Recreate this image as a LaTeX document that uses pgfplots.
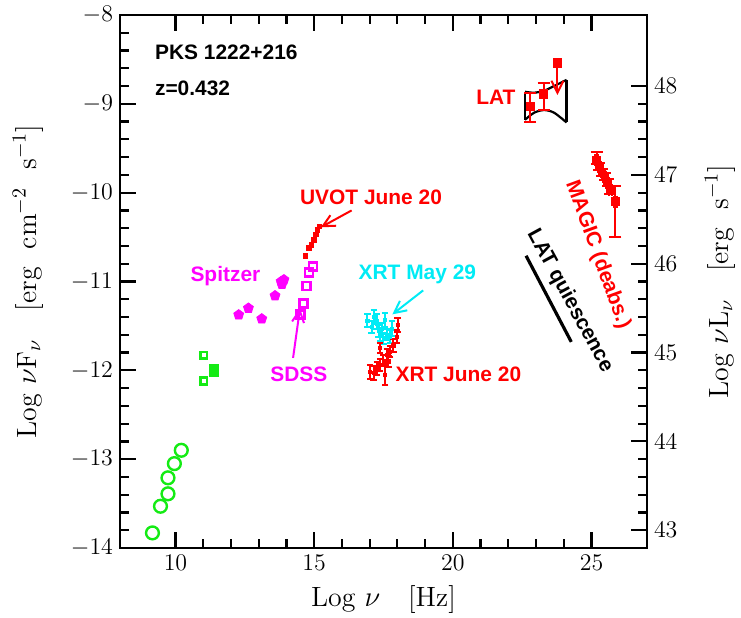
\documentclass[border=0pt]{standalone}
\usepackage{pgfplots}
\pgfplotsset{compat=1.18}
\usepackage{fontspec}
\newfontfamily\hv{Liberation Sans}
\usetikzlibrary{plotmarks,arrows.meta}
\definecolor{mygreen}{RGB}{20,235,20}
\definecolor{myred}{RGB}{255,0,0}
\definecolor{mymag}{RGB}{255,0,255}
\definecolor{mycyan}{RGB}{0,235,245}
\tikzset{lab/.style={font=\hv\bfseries\fontsize{10.5}{12}\selectfont, inner sep=0pt}}
\pgfplotsset{
  common/.style={scale only axis, width=263.5bp, height=266.5bp,
    tick align=inside, major tick length=8bp, minor tick length=4.5bp,
    every tick/.style={black, line width=1.1bp},
    axis line style={line width=1bp},
    tick label style={font=\fontsize{12.5}{14}\selectfont},
    label style={font=\fontsize{14}{16}\selectfont},
  }
}
\begin{document}
\begin{tikzpicture}
\begin{axis}[common, name=main,
  xmin=8, xmax=27, ymin=-14, ymax=-8,
  xtick={10,15,20,25}, minor x tick num=4,
  ytick={-14,-13,-12,-11,-10,-9,-8}, minor y tick num=4,
  xtick pos=both, ytick pos=left,
  xlabel={Log $\nu$\quad[Hz]},
  ylabel={Log\ $\nu$F$_\nu$\quad[erg\ \ cm$^{-2}$\ \ s$^{-1}$]},
  xlabel style={at={(axis description cs:0.5,-0.0976)}, anchor=center},
  ylabel style={at={(axis description cs:-0.1746,0.5)}, anchor=center},
  clip=false]
% radio
\addplot[only marks, mark=o, mark size=3.2bp, draw=mygreen, line width=1.2bp]
  coordinates {(9.17,-13.83)(9.46,-13.53)(9.73,-13.39)(9.73,-13.21)(9.96,-13.05)(10.21,-12.90)};
\addplot[only marks, mark=square, mark size=1.7bp, draw=mygreen, line width=1.2bp]
  coordinates {(11.02,-11.83)(11.02,-12.12)};
\addplot[only marks, mark=square*, mark size=2.2bp, draw=mygreen, fill=mygreen]
  coordinates {(11.39,-11.98)(11.39,-12.02)};
% Spitzer
\addplot[only marks, mark=pentagon*, mark size=2.6bp, draw=mymag, fill=mymag]
  coordinates {(12.28,-11.375)(12.63,-11.30)(13.11,-11.42)(13.59,-11.16)(13.81,-11.00)(13.91,-10.98)(13.84,-11.03)};
% SDSS
\addplot[only marks, mark=square, mark size=2.0bp, draw=mymag, line width=1.3bp]
  coordinates {(14.96,-10.83)(14.81,-10.90)(14.73,-11.05)(14.61,-11.25)(14.51,-11.37)};
% UVOT
\addplot[only marks, mark=square*, mark size=1.1bp, draw=myred, fill=myred,
  error bars/.cd, y dir=both, y explicit, error bar style={line width=0.8bp},
  error mark options={rotate=90, mark size=1.2bp, line width=0.8bp}]
  coordinates {(14.69,-10.71)+-(0,0.02)(14.81,-10.62)+-(0,0.02)(14.90,-10.59)+-(0,0.02)(14.99,-10.53)+-(0,0.02)(15.06,-10.47)+-(0,0.02)(15.11,-10.42)+-(0,0.02)(15.19,-10.38)+-(0,0.02)};
% XRT May 29
\addplot[only marks, mark=square*, mark size=0.8bp, draw=mycyan, fill=mycyan,
  error bars/.cd, y dir=both, y explicit, error bar style={line width=1bp, mycyan},
  error mark options={rotate=90, mark size=1.6bp, line width=1bp, mycyan}]
  coordinates {(16.92,-11.44)+-(0,0.07)(17.07,-11.51)+-(0,0.07)(17.25,-11.45)+-(0,0.08)(17.32,-11.56)+-(0,0.07)
  (17.43,-11.53)+-(0,0.06)(17.56,-11.43)+-(0,0.08)(17.61,-11.60)+-(0,0.06)(17.74,-11.62)+-(0,0.07)
  (17.80,-11.53)+-(0,0.08)(17.50,-11.64)+-(0,0.06)(17.38,-11.60)+-(0,0.07)(17.15,-11.40)+-(0,0.08)};
% XRT June 20
\addplot[only marks, mark=square*, mark size=0.8bp, draw=myred, fill=myred,
  error bars/.cd, y dir=both, y explicit, error bar style={line width=1bp, myred},
  error mark options={rotate=90, mark size=1.6bp, line width=1bp, myred}]
  coordinates {(18.01,-11.49)+-(0,0.08)(17.97,-11.62)+-(0,0.07)(17.86,-11.72)+-(0,0.07)(17.74,-11.79)+-(0,0.06)
  (17.62,-11.83)+-(0,0.07)(17.50,-11.89)+-(0,0.06)(17.38,-11.94)+-(0,0.07)(17.26,-11.98)+-(0,0.07)
  (17.14,-12.03)+-(0,0.08)(17.02,-12.02)+-(0,0.08)(17.56,-12.05)+-(0,0.12)(17.38,-11.75)+-(0,0.06)(17.68,-11.90)+-(0,0.06)};
% LAT bowtie
\addplot[black, line width=1.1bp, smooth] coordinates {(22.60,-8.864)(22.93,-8.875)(23.29,-8.852)(23.65,-8.80)(24.10,-8.73)};
\addplot[black, line width=1.1bp, smooth] coordinates {(22.60,-9.18)(22.93,-9.10)(23.29,-9.07)(23.65,-9.10)(24.10,-9.21)};
\addplot[black, line width=1.1bp] coordinates {(22.60,-8.864)(22.60,-9.18)};
\addplot[black, line width=1.1bp] coordinates {(24.10,-8.73)(24.10,-9.21)};
% LAT points
\addplot[only marks, mark=square*, mark size=2.1bp, draw=myred, fill=myred,
  error bars/.cd, y dir=both, y explicit, error bar style={line width=1bp, myred},
  error mark options={rotate=90, mark size=3bp, line width=1bp, myred}]
  coordinates {(22.79,-9.03)+=(0,0.15)-=(0,0.17)(23.27,-8.89)+=(0,0.12)-=(0,0.18)};
\addplot[only marks, mark=square*, mark size=2.1bp, draw=myred, fill=myred]
  coordinates {(23.77,-8.54)};
\draw[myred, line width=1bp, -{Straight Barb[length=6bp,width=6bp]}] (axis cs:23.77,-8.54) -- (axis cs:23.77,-8.90);
% LAT quiescence
\addplot[black, line width=1.6bp] coordinates {(22.64,-10.71)(24.27,-11.68)};
% MAGIC
\addplot[only marks, mark=square*, mark size=1.9bp, draw=myred, fill=myred,
  error bars/.cd, x dir=both, x explicit, y dir=both, y explicit, error bar style={line width=1bp, myred},
  error mark options={rotate=90, mark size=3bp, line width=1bp, myred}]
  coordinates {(25.18,-9.63)+=(0.04,0.09)-=(0.04,0.05)(25.28,-9.71)+-(0.05,0.04)(25.38,-9.77)+-(0.05,0.04)
  (25.48,-9.82)+-(0.05,0.04)(25.58,-9.89)+-(0.05,0.04)(25.68,-9.97)+-(0.05,0.05)(25.86,-10.10)+=(0.05,0.17)-=(0.05,0.40)};
% labels
\node[lab, anchor=west] at (axis cs:9.25,-8.42) {PKS 1222+216};
\node[lab, anchor=west] at (axis cs:9.25,-8.82) {z=0.432};
\node[lab, text=myred] at (axis cs:21.55,-8.93) {LAT};
\node[lab, text=myred] at (axis cs:17.05,-10.05) {UVOT June 20};
\draw[myred, line width=1bp, -{Straight Barb[length=6bp,width=6bp]}] (axis cs:16.35,-10.20) -- (axis cs:15.24,-10.39);
\node[lab, text=mymag] at (axis cs:11.80,-10.94) {Spitzer};
\node[lab, text=mymag] at (axis cs:14.45,-12.05) {SDSS};
\draw[mymag, line width=1bp, -{Straight Barb[length=6bp,width=6bp]}] (axis cs:14.24,-11.86) -- (axis cs:14.49,-11.30);
\node[lab, text=mycyan] at (axis cs:18.72,-10.92) {XRT May 29};
\draw[mycyan, line width=1bp, -{Straight Barb[length=6bp,width=6bp]}] (axis cs:18.93,-11.10) -- (axis cs:17.82,-11.37);
\node[lab, text=myred] at (axis cs:20.2,-12.05) {XRT June 20};
\node[lab, text=myred, rotate=-70] at (axis cs:25.22,-10.70) {MAGIC (deabs.)};
\node[lab, rotate=-61.5] at (axis cs:24.22,-11.22) {LAT quiescence};
\end{axis}
\begin{axis}[common,
  xmin=8, xmax=27, ymin=42.8, ymax=48.8,
  axis x line=none, axis y line*=right, tick align=inside,
  ytick={43,44,45,46,47,48}, minor y tick num=4,
  ylabel={Log\ $\nu$L$_\nu$\quad[erg\ \ s$^{-1}$]},
  ylabel style={at={(axis description cs:1.1385,0.5)}, anchor=center}]
\end{axis}
\pgfresetboundingbox
\path[use as bounding box] ([xshift=-60bp,yshift=-35bp]main.south west) rectangle ([xshift=47bp,yshift=7.5bp]main.north east);
\end{tikzpicture}
\end{document}
